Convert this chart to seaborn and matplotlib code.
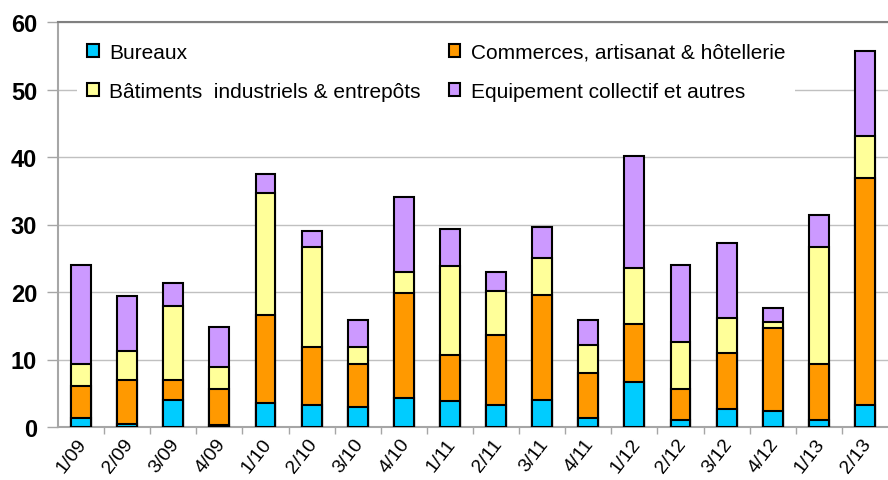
import numpy as np
import pandas as pd
import matplotlib
matplotlib.use("Agg")
import matplotlib.pyplot as plt
import matplotlib.transforms as mtransforms
from matplotlib.patches import Patch
import seaborn as sns

# data
quarters = ["1/09", "2/09", "3/09", "4/09", "1/10", "2/10", "3/10", "4/10", "1/11",
            "2/11", "3/11", "4/11", "1/12", "2/12", "3/12", "4/12", "1/13", "2/13"]
bureaux = [1.3, 0.5, 4.0, 0.3, 3.5, 3.2, 2.9, 4.3, 3.8, 3.2, 4.0, 1.3, 6.6, 1.0, 2.6, 2.4, 1.0, 3.2]
commerces = [4.8, 6.5, 3.0, 5.3, 13.1, 8.6, 6.5, 15.6, 6.9, 10.5, 15.6, 6.7, 8.7, 4.6, 8.4, 12.2, 8.4, 33.7]
batiments = [3.2, 4.3, 10.9, 3.3, 18.0, 14.8, 2.5, 3.0, 13.2, 6.4, 5.4, 4.1, 8.3, 7.0, 5.1, 1.0, 17.2, 6.2]
equipement = [14.7, 8.1, 3.4, 5.9, 2.9, 2.5, 4.0, 11.2, 5.4, 2.8, 4.6, 3.8, 16.5, 11.4, 11.1, 2.1, 4.8, 12.6]

labels = ["Bureaux", "Commerces, artisanat & hôtellerie",
          "Bâtiments  industriels & entrepôts", "Equipement collectif et autres"]
colors = ["#00CCFF", "#FF9900", "#FFFF99", "#CC99FF"]

df = pd.DataFrame({"quarter": quarters, "b": bureaux, "c": commerces,
                   "i": batiments, "e": equipement})
layers = ["b", "c", "i", "e"]
cum = df[layers].cumsum(axis=1)

sns.set_style("white")
plt.rcParams["font.family"] = ["Liberation Sans", "DejaVu Sans"]

fig = plt.figure(figsize=(8.88, 4.81), dpi=100)
ax = fig.add_axes([58 / 888, 53 / 481, 1 - 58 / 888, (428 - 23) / 481])

# draw stacks from the top layer down so each segment shows
for key, col in reversed(list(zip(layers, colors))):
    sns.barplot(x=df["quarter"], y=cum[key], color=col, width=0.43,
                edgecolor="black", linewidth=1.5, saturation=1, ax=ax, zorder=3)

ax.set_ylim(0, 60)
ax.set_xlim(-0.5, len(quarters) - 0.5)
ax.set_yticks(range(0, 61, 10))
ax.yaxis.grid(True, color="#C0C0C0", linewidth=1, zorder=0)
ax.set_axisbelow(True)
ax.set_xlabel("")
ax.set_ylabel("")

for side in ["left", "bottom"]:
    ax.spines[side].set_color("#A6A6A6")
    ax.spines[side].set_linewidth(1.5)
ax.spines["top"].set_color("#808080")
ax.spines["top"].set_linewidth(1.5)
ax.spines["right"].set_visible(False)

ax.tick_params(axis="y", length=8, width=1, color="#A6A6A6", left=True, pad=7,
               labelsize=17, labelcolor="black")
for t in ax.get_yticklabels():
    t.set_fontweight("bold")

ax.set_xticks(np.arange(len(quarters)))
ax.set_xticklabels(quarters, rotation=52, ha="right", rotation_mode="anchor",
                   fontsize=14, color="black")
ax.tick_params(axis="x", which="major", length=0, pad=6)
shift = mtransforms.ScaledTranslation(-4 / 100, 0, fig.dpi_scale_trans)
for t in ax.get_xticklabels():
    t.set_transform(t.get_transform() + shift)
ax.set_xticks(np.arange(len(quarters) - 1) + 0.5, minor=True)
ax.tick_params(axis="x", which="minor", length=5, width=1, color="#A6A6A6",
               bottom=True)

# legend fills row by row in the reference
order = [0, 2, 1, 3]
handles = [Patch(facecolor=colors[i], edgecolor="black", linewidth=1.5) for i in order]
leg = ax.legend(handles, [labels[i] for i in order], ncol=2, loc="upper left",
                bbox_to_anchor=(0.01, 1.0), frameon=True, fontsize=15,
                handlelength=0.55, handleheight=0.55, handletextpad=0.5,
                labelspacing=0.95, columnspacing=1.35, borderpad=0.5,
                labelcolor="black")
leg.get_frame().set_facecolor("white")
leg.get_frame().set_edgecolor("none")
leg.get_frame().set_alpha(1)
leg.set_zorder(5)

fig.savefig("out.png", dpi=100)
